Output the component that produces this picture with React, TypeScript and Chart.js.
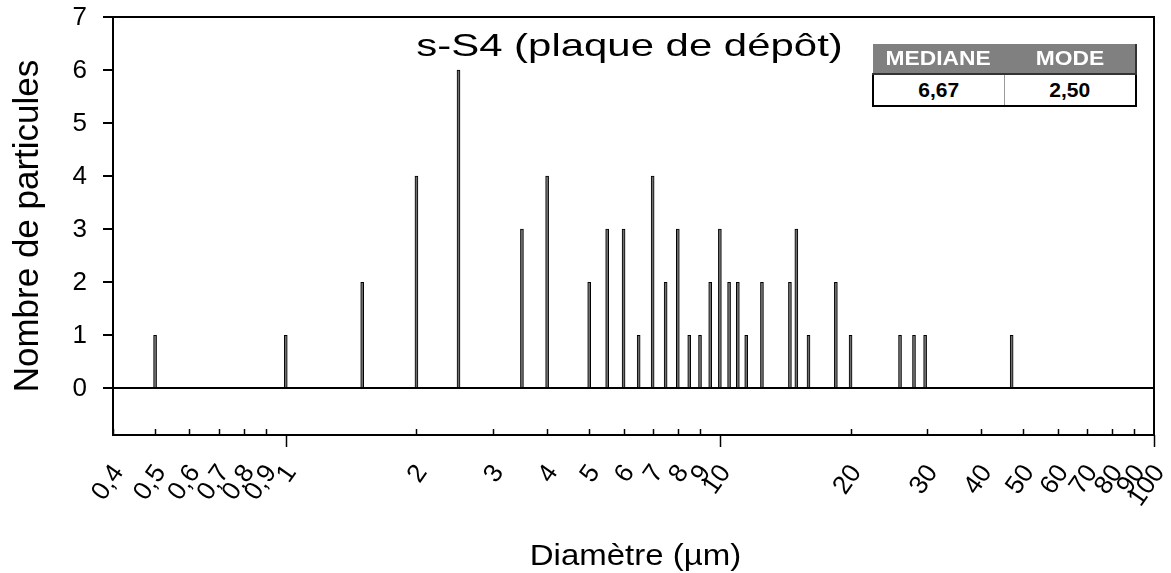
import React, { useEffect, useRef } from "react";
import { Chart, registerables } from "chart.js";
Chart.register(...registerables);

const chartTitle = "s-S4 (plaque de dépôt)";
const xAxisTitle = "Diamètre (µm)";
const yAxisTitle = "Nombre de particules";

const diameters = [0.5, 1, 1.5, 2, 2.5, 3.5, 4, 5, 5.5, 6, 6.5, 7, 7.5, 8, 8.5, 9, 9.5, 10, 10.5, 11, 11.5, 12.5, 14.5, 15, 16, 18.5, 20, 26, 28, 29.7, 47];
const counts = [1, 1, 2, 4, 6, 3, 4, 2, 3, 3, 1, 4, 2, 3, 1, 1, 2, 3, 2, 2, 1, 2, 2, 3, 1, 2, 1, 1, 1, 1, 1];

const xTickValues = [0.4, 0.5, 0.6, 0.7, 0.8, 0.9, 1, 2, 3, 4, 5, 6, 7, 8, 9, 10, 20, 30, 40, 50, 60, 70, 80, 90, 100];
const majorTicks = [1, 10, 100];
const yTickValues = [0, 1, 2, 3, 4, 5, 6, 7];

const tableHeaders = ["MEDIANE", "MODE"];
const tableValues = ["6,67", "2,50"];

const FONT = '"Liberation Sans", Arial, sans-serif';

const fmt = (v: number) => String(v).replace(".", ",");

const framePlugin = {
  id: "frame",
  afterDraw(chart: any) {
    const { ctx, chartArea: a, scales } = chart;
    const x = scales.x;
    const y = scales.y;
    ctx.save();
    ctx.strokeStyle = "#000";
    ctx.fillStyle = "#000";

    // frame
    ctx.lineWidth = 2;
    ctx.strokeRect(a.left, a.top, a.right - a.left, a.bottom - a.top);

    // zero line
    const y0 = Math.round(y.getPixelForValue(0));
    ctx.beginPath();
    ctx.moveTo(a.left - 10, y0);
    ctx.lineTo(a.right, y0);
    ctx.stroke();

    // y ticks + labels
    ctx.font = `26px ${FONT}`;
    ctx.textAlign = "right";
    ctx.textBaseline = "middle";
    yTickValues.forEach((v) => {
      const py = Math.round(y.getPixelForValue(v));
      ctx.beginPath();
      ctx.moveTo(a.left - 10, py);
      ctx.lineTo(a.left, py);
      ctx.stroke();
      ctx.fillText(fmt(v), a.left - 26, py + 1);
    });

    // x ticks + labels
    ctx.lineWidth = 1.5;
    xTickValues.forEach((v) => {
      const px = Math.round(x.getPixelForValue(v)) + 0.5;
      const major = majorTicks.includes(v);
      ctx.beginPath();
      ctx.moveTo(px, a.bottom);
      ctx.lineTo(px, major ? a.bottom + 12 : a.bottom - 6);
      ctx.stroke();
    });
    ctx.font = `26px ${FONT}`;
    ctx.textAlign = "right";
    ctx.textBaseline = "alphabetic";
    xTickValues.forEach((v) => {
      const px = x.getPixelForValue(v);
      ctx.save();
      ctx.translate(px + 4, a.bottom + 32);
      ctx.rotate((-55 * Math.PI) / 180);
      ctx.fillText(fmt(v), 0, 9);
      ctx.restore();
    });

    // chart title
    ctx.save();
    ctx.font = `32px ${FONT}`;
    ctx.textAlign = "center";
    ctx.textBaseline = "alphabetic";
    ctx.translate((a.left + a.right) / 2 - 4, a.top + 39);
    ctx.scale(1.31, 1);
    ctx.fillText(chartTitle, 0, 0);
    ctx.restore();

    // x axis title
    ctx.save();
    ctx.font = `30px ${FONT}`;
    ctx.textAlign = "center";
    ctx.textBaseline = "alphabetic";
    ctx.translate((a.left + a.right) / 2 + 2, a.bottom + 130);
    ctx.scale(1.1, 1);
    ctx.fillText(xAxisTitle, 0, 0);
    ctx.restore();

    // y axis title
    ctx.save();
    ctx.font = `35px ${FONT}`;
    ctx.textAlign = "center";
    ctx.textBaseline = "alphabetic";
    ctx.translate(38, (a.top + a.bottom) / 2);
    ctx.rotate(-Math.PI / 2);
    ctx.fillText(yAxisTitle, 0, 0);
    ctx.restore();

    ctx.restore();
  },
};

export default function App() {
  const ref = useRef<HTMLCanvasElement | null>(null);
  useEffect(() => {
    if (!ref.current) return;
    const chart = new Chart(ref.current, {
      type: "bar",
      data: {
        datasets: [
          {
            data: diameters.map((d, i) => ({ x: d, y: counts[i] })),
            backgroundColor: "#6e6e6e",
            borderColor: "#000",
            borderWidth: 1,
            barThickness: 3,
          } as any,
        ],
      },
      options: {
        animation: false,
        responsive: true,
        maintainAspectRatio: false,
        layout: { padding: { top: 17, right: 17, left: 0, bottom: 0 } },
        plugins: { legend: { display: false }, tooltip: { enabled: false } },
        scales: {
          x: {
            type: "logarithmic",
            min: 0.4,
            max: 100,
            offset: false,
            grid: { display: false, drawTicks: false },
            border: { display: false },
            afterBuildTicks: (s: any) => {
              s.ticks = xTickValues.map((v) => ({ value: v }));
            },
            afterFit: (s: any) => {
              s.height = 138;
              s.paddingLeft = 0;
              s.paddingRight = 0;
            },
            ticks: { display: false, autoSkip: false },
          },
          y: {
            type: "linear",
            min: -0.88,
            max: 7,
            afterBuildTicks: (s: any) => {
              s.ticks = yTickValues.map((v) => ({ value: v }));
            },
            afterFit: (s: any) => {
              s.width = 113;
              s.paddingTop = 0;
              s.paddingBottom = 0;
            },
            grid: { display: false, drawTicks: false },
            border: { display: false },
            ticks: { display: false },
          },
        },
      } as any,
      plugins: [framePlugin],
    });
    return () => chart.destroy();
  }, []);

  const cell: React.CSSProperties = {
    width: "50%",
    textAlign: "center",
    fontFamily: FONT,
    fontWeight: "bold",
    padding: 0,
    whiteSpace: "nowrap",
  };

  return (
    <div style={{ position: "absolute", left: 0, top: 0, width: 1171, height: 573 }}>
      <canvas ref={ref} />
      <table
        style={{
          position: "absolute",
          left: 872,
          top: 44,
          width: 265,
          height: 62,
          borderCollapse: "collapse",
          tableLayout: "fixed",
        }}
      >
        <tbody>
          <tr style={{ height: 30 }}>
            {tableHeaders.map((h, i) => (
              <td
                key={h}
                style={{
                  ...cell,
                  background: "#808080",
                  color: "#fff",
                  fontSize: 20,
                  borderRight: i === tableHeaders.length - 1 ? "2px solid #333" : "none",
                  borderBottom: "2px solid #333",
                }}
              >
                <span style={{ display: "inline-block", transform: "scaleX(1.14)" }}>{h}</span>
              </td>
            ))}
          </tr>
          <tr style={{ height: 32 }}>
            {tableValues.map((v, i) => (
              <td
                key={v}
                style={{
                  ...cell,
                  background: "#fff",
                  color: "#000",
                  fontSize: 21,
                  borderLeft: i === 0 ? "2px solid #000" : "1px solid #999",
                  borderRight: i === tableValues.length - 1 ? "2px solid #000" : "none",
                  borderBottom: "2px solid #000",
                }}
              >
                {v}
              </td>
            ))}
          </tr>
        </tbody>
      </table>
    </div>
  );
}
